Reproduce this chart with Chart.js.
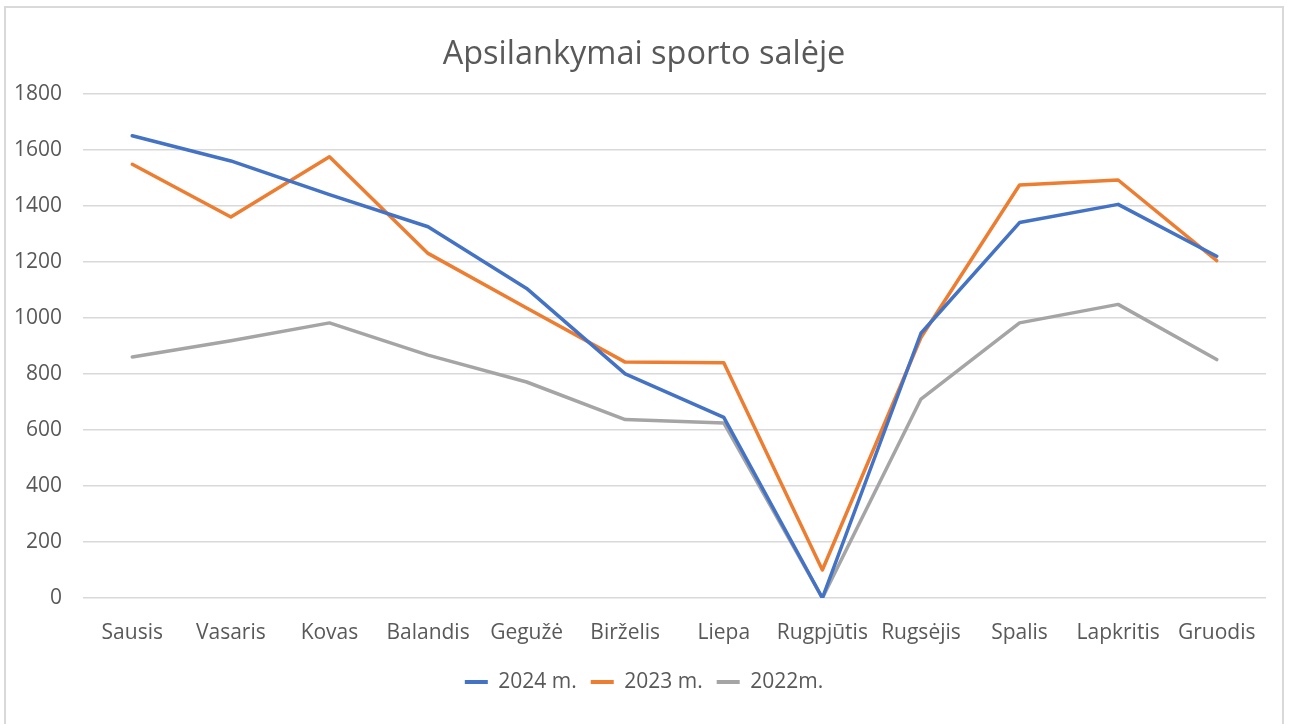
<!DOCTYPE html>
<html>
<head>
<meta charset="utf-8">
<script src="https://cdn.jsdelivr.net/npm/chart.js@4.4.1/dist/chart.umd.min.js"></script>
<style>
  html, body { margin: 0; padding: 0; background: #fff; }
  #wrap { position: relative; width: 1291px; height: 724px; overflow: hidden; }
  #frame { position: absolute; left: 4px; top: 6px; width: 1280px; height: 740px; border: 2px solid #d9d9d9; box-sizing: border-box; }
  canvas { position: absolute; left: 0; top: 0; }
</style>
</head>
<body>
<div id="wrap">
  <div id="frame"></div>
  <canvas id="c" width="1291" height="724"></canvas>
</div>
<script>
const titleText = 'Apsilankymai sporto salėje';
const categories = ['Sausis', 'Vasaris', 'Kovas', 'Balandis', 'Gegužė', 'Birželis', 'Liepa', 'Rugpjūtis', 'Rugsėjis', 'Spalis', 'Lapkritis', 'Gruodis'];
const series2024 = [1650, 1560, 1440, 1325, 1105, 800, 645, 0, 945, 1340, 1405, 1220];
const series2023 = [1548, 1360, 1575, 1230, 1035, 842, 840, 100, 930, 1474, 1492, 1204];
const series2022 = [860, 918, 982, 867, 771, 637, 625, 0, 710, 982, 1048, 851];
const seriesNames = ['2024 m.', '2023 m.', '2022m.'];
const yTicks = [0, 200, 400, 600, 800, 1000, 1200, 1400, 1600, 1800];

const FONT = "'Open Sans', 'Noto Sans', sans-serif";
const TXT = '#595959';

function ds(label, data, color) {
  return {
    label, data,
    borderColor: color, backgroundColor: color,
    borderWidth: 3.5, pointRadius: 0, pointHoverRadius: 0,
    tension: 0, borderJoinStyle: 'round', borderCapStyle: 'round', fill: false
  };
}

new Chart(document.getElementById('c'), {
  type: 'line',
  data: {
    labels: categories,
    datasets: [
      ds(seriesNames[0], series2024, '#4472C4'),
      ds(seriesNames[1], series2023, '#ED7D31'),
      ds(seriesNames[2], series2022, '#A5A5A5')
    ]
  },
  options: {
    responsive: false,
    animation: false,
    devicePixelRatio: 1,
    layout: { padding: { left: 22, right: 25, top: 0, bottom: 21.5 } },
    plugins: {
      tooltip: { enabled: false },
      title: {
        display: true, text: titleText, color: TXT,
        font: { family: FONT, size: 32.5, weight: 'normal' },
        padding: { top: 35, bottom: 19.7 }
      },
      legend: {
        position: 'bottom',
        labels: {
          color: TXT,
          font: { family: FONT, size: 21 },
          boxWidth: 23, boxHeight: 4,
          padding: 14,
          generateLabels(chart) {
            const items = Chart.defaults.plugins.legend.labels.generateLabels(chart);
            items.forEach(i => { i.lineWidth = 0; });
            return items;
          }
        }
      }
    },
    scales: {
      x: {
        offset: true,
        grid: { display: false, drawTicks: false },
        border: { display: false },
        afterFit(scale) { scale.height = 59.5; },
        ticks: { color: TXT, font: { family: FONT, size: 21 }, padding: 22, maxRotation: 0, autoSkip: false }
      },
      y: {
        min: 0, max: 1800,
        afterBuildTicks(scale) { scale.ticks = yTicks.map(v => ({ value: v })); },
        afterFit(scale) { scale.width = 61; scale._computeLabelArea = () => undefined; },
        grid: { color: '#d9d9d9', lineWidth: 1.5, drawTicks: false },
        border: { display: false },
        ticks: { color: TXT, font: { family: FONT, size: 21 }, padding: 21, callback: v => String(v) }
      }
    }
  }
});
</script>
</body>
</html>
